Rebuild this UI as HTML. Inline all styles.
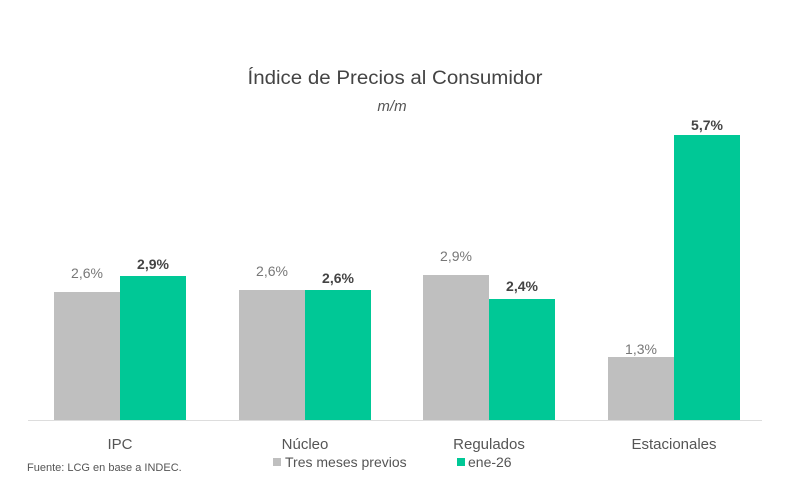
<!DOCTYPE html>
<html><head><meta charset="utf-8"><style>
body{margin:0;background:#fff;}
svg{display:block;font-family:"Liberation Sans",sans-serif;}
</style></head><body>
<svg width="790" height="504" viewBox="0 0 790 504">
<rect width="790" height="504" fill="#fff"/>
<text x="395" y="84" text-anchor="middle" font-size="19" fill="#444" textLength="295" lengthAdjust="spacingAndGlyphs">Índice de Precios al Consumidor</text>
<text x="392" y="111" text-anchor="middle" font-size="15" font-style="italic" fill="#555">m/m</text>
<line x1="28" y1="420.5" x2="762" y2="420.5" stroke="#ddd" stroke-width="1"/>
<g fill="#bfbfbf">
<rect x="54" y="292" width="66" height="128"/>
<rect x="239" y="290" width="66" height="130"/>
<rect x="423" y="275" width="66" height="145"/>
<rect x="608" y="357" width="66" height="63"/>
</g>
<g fill="#00c896">
<rect x="120" y="276" width="66" height="144"/>
<rect x="305" y="290" width="66" height="130"/>
<rect x="489" y="299" width="66" height="121"/>
<rect x="674" y="135" width="66" height="285"/>
</g>
<g font-size="14" fill="#777" text-anchor="middle">
<text x="87" y="278">2,6%</text>
<text x="272" y="276">2,6%</text>
<text x="456" y="261">2,9%</text>
<text x="641" y="354">1,3%</text>
</g>
<g font-size="14" fill="#444" font-weight="bold" text-anchor="middle">
<text x="153" y="269">2,9%</text>
<text x="338" y="283">2,6%</text>
<text x="522" y="291">2,4%</text>
<text x="707" y="130">5,7%</text>
</g>
<g font-size="15" fill="#555" text-anchor="middle">
<text x="120" y="449">IPC</text>
<text x="305" y="449">Núcleo</text>
<text x="489" y="449">Regulados</text>
<text x="674" y="449">Estacionales</text>
</g>
<text x="27" y="471" font-size="11" fill="#555">Fuente: LCG en base a INDEC.</text>
<rect x="273" y="458" width="8" height="8" fill="#bfbfbf"/>
<text x="285" y="467" font-size="14" fill="#555">Tres meses previos</text>
<rect x="457" y="458" width="8" height="8" fill="#00c896"/>
<text x="468" y="467" font-size="14" fill="#555">ene-26</text>
</svg>
</body></html>
